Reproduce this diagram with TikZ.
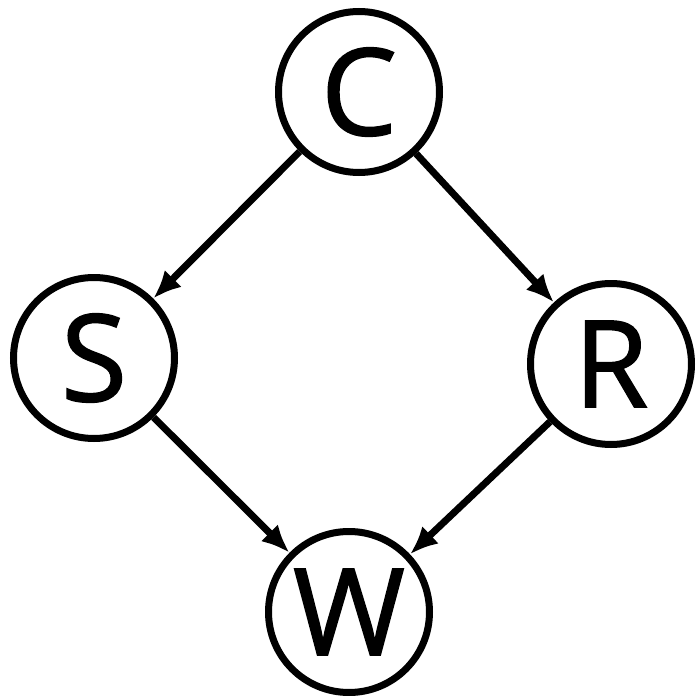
\documentclass[tikz,border=0pt]{standalone}
\usepackage{fontspec}
\setmainfont{Open Sans}
\newfontfamily\labfont[FakeBold=1.2]{Open Sans}
\usetikzlibrary{arrows.meta}
\begin{document}
\begin{tikzpicture}[x=1pt,y=-1pt,
  var/.style={circle,draw=black,line width=7pt,minimum size=161pt,inner sep=0pt,
    font=\labfont\fontsize{121}{121}\selectfont},
  edge/.style={line width=7pt,-{Latex[length=28pt,width=24pt]}}]
\useasboundingbox (0,0) rectangle (697,696);
\node[var] (C) at (359,92) {C};
\node[var] (S) at (94,358) {S};
\node[var] (R) at (611,364) {R};
\node[var] (W) at (349,612) {W};
\draw[edge] (C) -- (S);
\draw[edge] (C) -- (R);
\draw[edge] (S) -- (W);
\draw[edge] (R) -- (W);
\end{tikzpicture}
\end{document}
